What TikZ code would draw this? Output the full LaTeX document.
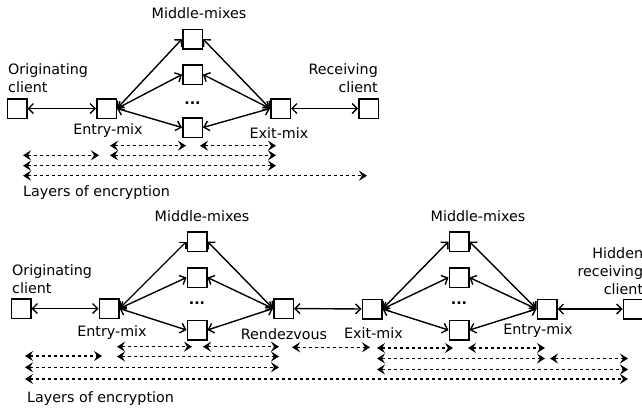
\documentclass[tikz,border=0pt]{standalone}
\usepackage{fontspec}
\setmainfont{DejaVu Sans}
\usetikzlibrary{arrows.meta}

\tikzset{
  mix/.style={draw, line width=1.5pt, minimum size=19.5pt, inner sep=0pt},
  link/.style={line width=1.4pt, {Straight Barb[length=5pt,width=10pt]}-{Straight Barb[length=5pt,width=10pt]}},
  layer/.style={line width=1.5pt, dash pattern=on 3.5pt off 2.5pt, {Stealth[length=8pt,width=10pt,inset=3pt]}-{Stealth[length=8pt,width=10pt,inset=3pt]}},
  lbl/.style={inner sep=0pt, font=\fontsize{14.3}{18}\selectfont},
  dots/.style={inner sep=0pt, font=\fontsize{14.3}{18}\selectfont\bfseries}
}

\begin{document}
\begin{tikzpicture}[x=1pt, y=-1pt]
      \useasboundingbox (0,0) rectangle (642,410);
      % first path: client to client
      \node[mix] (oc) at (17,108.5) {};
      \node[mix] (en) at (106.5,108.5) {};
      \node[mix] (ma) at (192.5,39) {};
      \node[mix] (mb) at (192.5,74.5) {};
      \node[mix] (mc) at (192.5,127.5) {};
      \node[dots] (md) at (192.5,103) {...};
      \node[mix] (ex) at (280.5,108.5) {};
      \node[mix] (rc) at (368.5,108.5) {};
      \node[lbl, anchor=north] (mmlbl) at (199,7) {Middle-mixes};
      \node[lbl, anchor=south west, align=left] (oclbl) at (8,93) {Originating\\client};
      \node[lbl, anchor=south east, align=right] (rclbl) at (378,93) {Receiving\\client};
      \node[lbl, anchor=north] (enlbl) at (108,123) {Entry-mix};
      \node[lbl, anchor=north] (exlbl) at (279,127) {Exit-mix};
      \node[lbl, anchor=north west] (loelbl) at (23,185) {Layers of encryption};
      \begin{scope}[link]
        \draw (oc.east) to (en.west);
        \draw (en.east) to (ma.west);
        \draw (en.east) to (mb.west);
        \draw (en.east) to (mc.west);
        \draw (ma.east) to (ex.west);
        \draw (mb.east) to (ex.west);
        \draw (mc.east) to (ex.west);
        \draw (ex.east) to (rc.west);
      \end{scope}
      % layers of encryption, first path
      \coordinate (l1s) at (110,145.7); \coordinate (l1e) at (186,145.7);
      \coordinate (l2s) at (200,145.7); \coordinate (l2e) at (276,145.7);
      \coordinate (l3s) at (23,155.3);  \coordinate (l3e) at (99,155.3);
      \coordinate (l4s) at (110,155.3); \coordinate (l4e) at (276,155.3);
      \coordinate (l5s) at (23,165.7);  \coordinate (l5e) at (276,165.7);
      \coordinate (l6s) at (23,175.7);  \coordinate (l6e) at (367,175.7);
      \begin{scope}[layer]
        \draw (l1s) to (l1e);
        \draw (l2s) to (l2e);
        \draw (l3s) to (l3e);
        \draw (l4s) to (l4e);
        \draw (l5s) to (l5e);
        \draw (l6s) to (l6e);
      \end{scope}
      % second path: over the rendezvous
      \node[mix] (oc2) at (21,308.5) {};
      \node[mix] (en2) at (109,308.5) {};
      \node[mix] (ma2) at (197,241.5) {};
      \node[mix] (mb2) at (197,277.5) {};
      \node[mix] (mc2) at (197,330) {};
      \node[dots] (md2) at (197,303) {...};
      \node[mix] (rv) at (283.5,308.5) {};
      \node[mix] (ex2) at (372,309) {};
      \node[mix] (ma3) at (459,241.5) {};
      \node[mix] (mb3) at (459,277.5) {};
      \node[mix] (mc3) at (459,330) {};
      \node[dots] (md3) at (459,303) {...};
      \node[mix] (en3) at (547,309) {};
      \node[mix] (hc) at (633,309) {};
      \node[lbl, anchor=north] (mmlbl2) at (202,210) {Middle-mixes};
      \node[lbl, anchor=north] (mmlbl3) at (478,210) {Middle-mixes};
      \node[lbl, anchor=south west, align=left] (oclbl2) at (12,294) {Originating\\client};
      \node[lbl, anchor=south east, align=right] (hclbl) at (643.3,295) {Hidden\\receiving\\client};
      \node[lbl, anchor=north] (enlbl2) at (112,325) {Entry-mix};
      \node[lbl, anchor=north] (rvlbl) at (284,328) {Rendezvous};
      \node[lbl, anchor=north] (exlbl2) at (373.5,327) {Exit-mix};
      \node[lbl, anchor=north] (enlbl3) at (538,323) {Entry-mix};
      \node[lbl, anchor=north west] (loelbl2) at (27,391) {Layers of encryption};
      \begin{scope}[link]
        \draw (oc2.east) to (en2.west);
        \draw (en2.east) to (ma2.west);
        \draw (en2.east) to (mb2.west);
        \draw (en2.east) to (mc2.west);
        \draw (ma2.east) to (rv.west);
        \draw (mb2.east) to (rv.west);
        \draw (mc2.east) to (rv.west);
        \draw (rv.east) to (ex2.west);
        \draw (ex2.east) to (ma3.west);
        \draw (ex2.east) to (mb3.west);
        \draw (ex2.east) to (mc3.west);
        \draw (ma3.east) to (en3.west);
        \draw (mb3.east) to (en3.west);
        \draw (mc3.east) to (en3.west);
        \draw (en3.east) to (hc.west);
      \end{scope}
      % layers of encryption, second path
      \coordinate (k1s) at (117,346.7);  \coordinate (k1e) at (192,346.7);
      \coordinate (k2s) at (203,346.7);  \coordinate (k2e) at (279,346.7);
      \coordinate (k3s) at (292,347.3);  \coordinate (k3e) at (370,347.3);
      \coordinate (k4s) at (377,348);    \coordinate (k4e) at (453,348);
      \coordinate (k5s) at (468,348);    \coordinate (k5e) at (545,348);
      \coordinate (k6s) at (25,356);     \coordinate (k6e) at (102,356);
      \coordinate (k7s) at (117,356.5);  \coordinate (k7e) at (279,356.5);
      \coordinate (k8s) at (377,358.5);  \coordinate (k8e) at (545,358.5);
      \coordinate (k9s) at (550,358.5);  \coordinate (k9e) at (628,358.5);
      \coordinate (k10s) at (25,367.3);  \coordinate (k10e) at (279,367.3);
      \coordinate (k11s) at (377,369.5); \coordinate (k11e) at (628,369.5);
      \coordinate (k12s) at (25,379);    \coordinate (k12e) at (628,379);
      \begin{scope}[layer]
        \draw (k1s) to (k1e);
        \draw (k2s) to (k2e);
        \draw (k3s) to (k3e);
        \draw (k4s) to (k4e);
        \draw (k5s) to (k5e);
        \draw (k6s) to (k6e);
        \draw (k7s) to (k7e);
        \draw (k8s) to (k8e);
        \draw (k9s) to (k9e);
        \draw (k10s) to (k10e);
        \draw (k11s) to (k11e);
        \draw (k12s) to (k12e);
      \end{scope}
    \end{tikzpicture}
\end{document}
